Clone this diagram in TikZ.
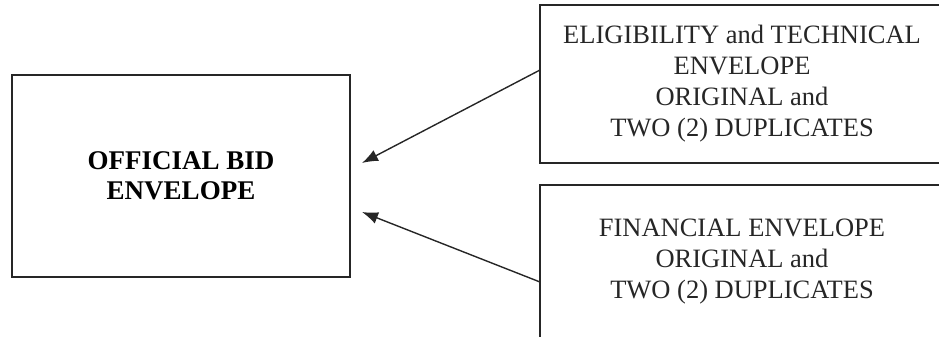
\documentclass[tikz,border=0pt]{standalone}
\usepackage{fontspec}
\setmainfont{Liberation Serif}
\usetikzlibrary{arrows.meta}
\tikzset{
	envbox/.style={draw,black!85,line width=1.4pt,rectangle,align=center,inner sep=0pt,
		text=black!85,font=\fontsize{26.5}{31}\selectfont},
	bidbox/.style={envbox,text=black,font=\fontsize{27}{30}\selectfont\bfseries},
	edge/.style={draw,black!85,line width=1.4pt,-{Latex[length=16pt,width=12pt]}}
}
\begin{document}
\begin{tikzpicture}[x = {(1pt,0pt)},
                    y = {(0pt,-1pt)}]

\useasboundingbox (0,0) rectangle (939,337);
\clip (0,0) rectangle (939,337);

\node[bidbox,minimum width=338pt,minimum height=202pt] (bid) at (181,176) {OFFICIAL BID\\ENVELOPE};

\node[envbox,minimum width=404pt,minimum height=158pt] (tech) at (742,84)
	{ELIGIBILITY and TECHNICAL\\ENVELOPE\\ORIGINAL and\\TWO (2) DUPLICATES};
\node[envbox,minimum width=404pt,minimum height=154pt] (fin) at (742,262)
	{FINANCIAL ENVELOPE\\ORIGINAL and\\TWO (2) DUPLICATES};

\coordinate (techout) at (540,70);
\coordinate (finout) at (540,282);
\coordinate (tipa) at (362,163);
\coordinate (tipb) at (362,212);

\draw[edge] (techout) to (tipa);
\draw[edge] (finout) to (tipb);

\end{tikzpicture}
\end{document}
